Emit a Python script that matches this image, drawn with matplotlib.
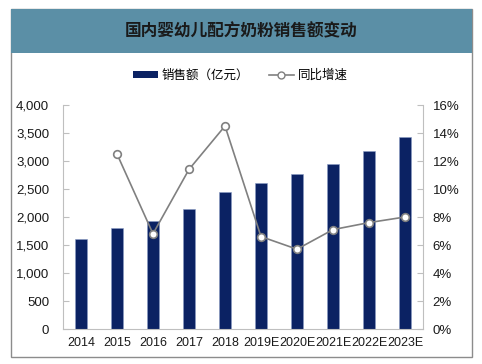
import matplotlib
matplotlib.use("Agg")
import matplotlib.pyplot as plt
from matplotlib.patches import Rectangle
from matplotlib.lines import Line2D
from matplotlib.ticker import FuncFormatter, MultipleLocator

categories = ["2014", "2015", "2016", "2017", "2018", "2019E", "2020E", "2021E", "2022E", "2023E"]
sales = [1600, 1800, 1930, 2150, 2450, 2610, 2760, 2950, 3170, 3430]
growth = [None, 12.5, 6.8, 11.4, 14.5, 6.6, 5.7, 7.1, 7.6, 8.0]
title = "国内婴幼儿配方奶粉销售额变动"
bar_label = "销售额（亿元）"
line_label = "同比增速"

plt.rcParams['font.family'] = ['Liberation Sans', 'Noto Sans CJK SC', 'DejaVu Sans']

W, H = 482, 364
fig = plt.figure(figsize=(W / 100, H / 100), dpi=100)

def fx(x): return x / W
def fy(y): return 1 - y / H

# outer border
fig.patches.append(Rectangle((fx(11), fy(357)), fx(472) - fx(11), fy(9) - fy(357),
                             transform=fig.transFigure, facecolor='white',
                             edgecolor='#8c8c8c', linewidth=1.0, zorder=-2))
# title banner
fig.patches.append(Rectangle((fx(11), fy(53)), fx(472) - fx(11), fy(9) - fy(53),
                             transform=fig.transFigure, facecolor='#5b8fa6',
                             edgecolor='none', zorder=-1))
fig.text(fx(241), fy(31), title, ha='center', va='center', fontsize=12,
         fontweight='bold', color='#1a1a1a', family=['Noto Sans CJK SC'])

ax = fig.add_axes([fx(63), fy(329), fx(423) - fx(63), fy(105) - fy(329)])
ax.set_zorder(2)
ax.set_facecolor('none')
x = list(range(len(categories)))
bar_color = '#0b2263'
ax.bar(x, sales, width=0.31, color=bar_color, edgecolor='#8a9cc4', linewidth=0.4, zorder=2)
ax.set_xlim(-0.5, len(categories) - 0.5)
ax.set_ylim(0, 4000)
ax.yaxis.set_major_locator(MultipleLocator(500))
ax.yaxis.set_major_formatter(FuncFormatter(lambda v, p: f"{int(v):,}"))
ax.set_xticks(x)
ax.set_xticklabels(categories)
for s in ['top', 'right']:
    ax.spines[s].set_visible(False)
for s in ['left', 'bottom']:
    ax.spines[s].set_color('#bfbfbf')
    ax.spines[s].set_linewidth(0.8)
ax.tick_params(axis='y', direction='in', length=4, color='#bfbfbf', pad=10,
               labelsize=9.5, labelcolor='#1a1a1a')
ax.tick_params(axis='x', length=0, pad=6, labelsize=9, labelcolor='#1a1a1a')

ax2 = ax.twinx()
ax2.set_zorder(3)
ax2.set_ylim(0, 16)
ax2.yaxis.set_major_locator(MultipleLocator(2))
ax2.yaxis.set_major_formatter(FuncFormatter(lambda v, p: f"{int(v)}%"))
for s in ['top', 'left', 'bottom']:
    ax2.spines[s].set_visible(False)
ax2.spines['right'].set_color('#bfbfbf')
ax2.spines['right'].set_linewidth(0.8)
ax2.tick_params(axis='y', direction='in', length=4, color='#bfbfbf', pad=7,
                labelsize=9.5, labelcolor='#1a1a1a')
gx = [i for i, g in zip(x, growth) if g is not None]
gy = [g for g in growth if g is not None]
ax2.plot(gx, gy, color='#808080', linewidth=1.2, marker='o', markersize=5.5,
         markerfacecolor='white', markeredgecolor='#808080', markeredgewidth=1.2, zorder=3)

handles = [Rectangle((0, 0), 1, 1, facecolor=bar_color, edgecolor='none'),
           Line2D([], [], color='#808080', linewidth=1.2, marker='o', markersize=5,
                  markerfacecolor='white', markeredgecolor='#808080')]
fig.legend(handles, [bar_label, line_label], loc='center', bbox_to_anchor=(fx(240), fy(75)),
           ncol=2, frameon=False, handlelength=2.0, handleheight=0.5,
           columnspacing=1.6, handletextpad=0.3,
           prop={'family': ['Noto Sans CJK SC'], 'size': 9})

fig.savefig("out.png", dpi=100)
